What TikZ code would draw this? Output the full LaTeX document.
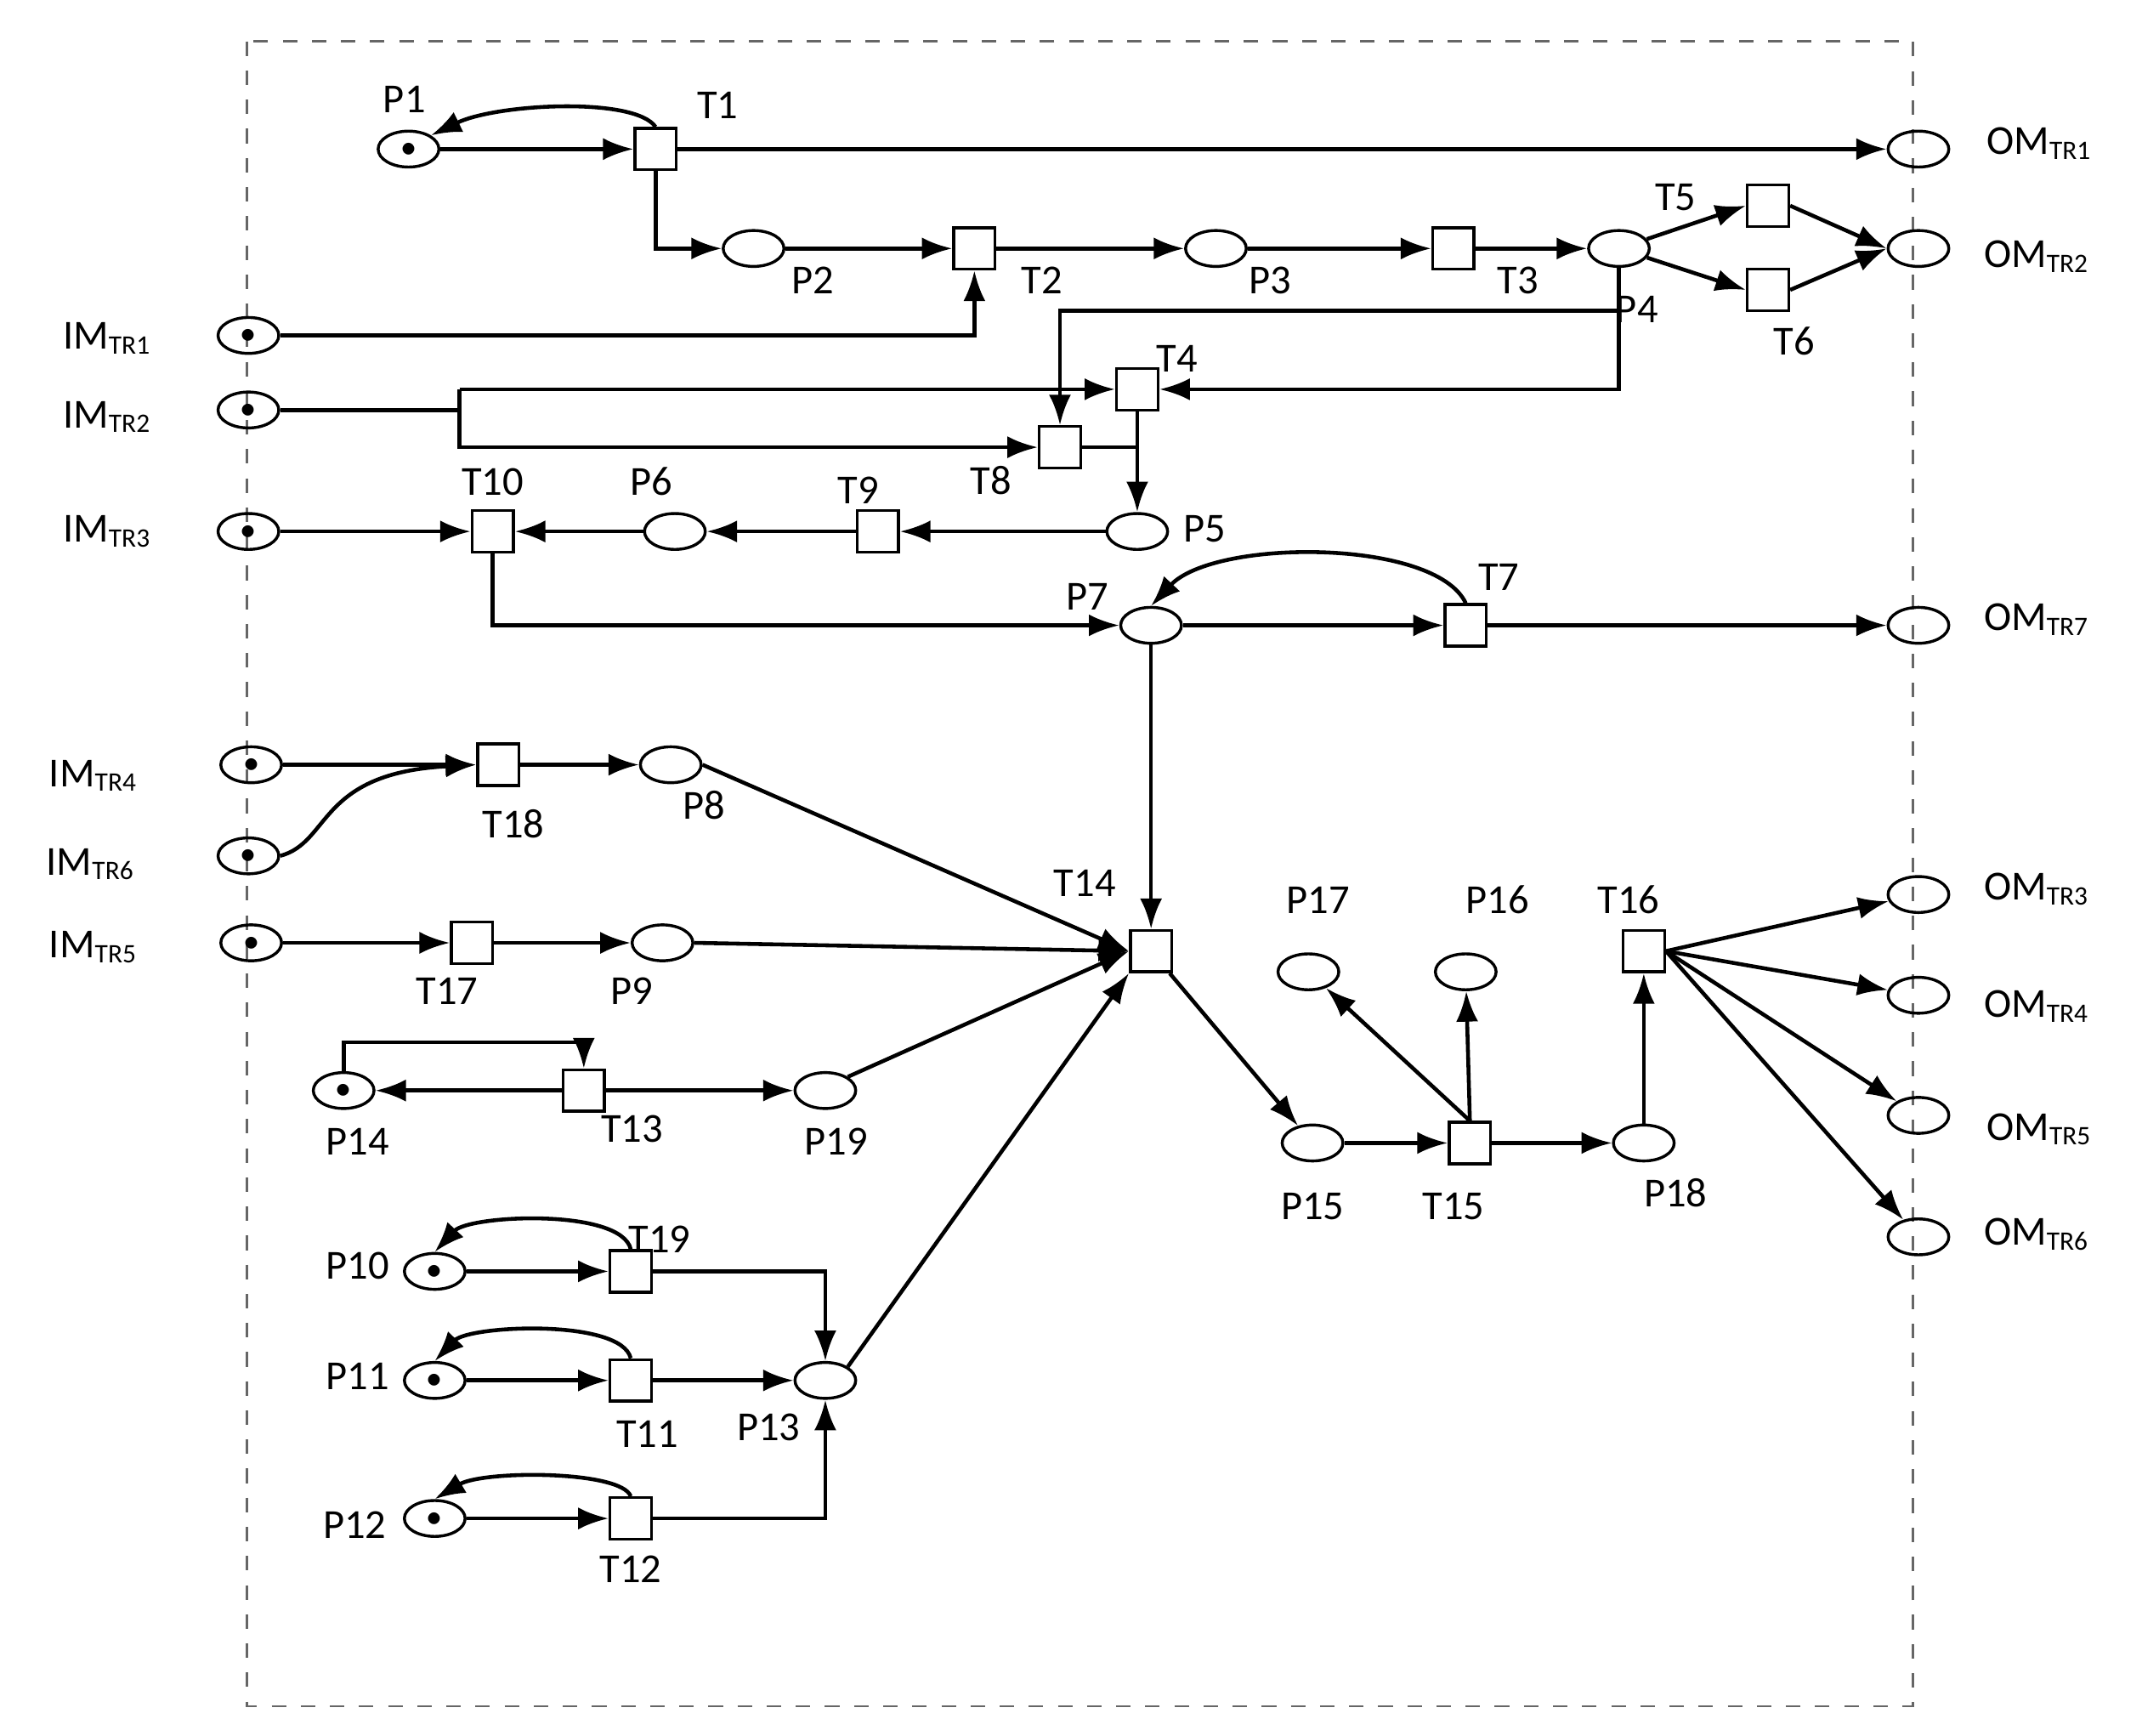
\documentclass[tikz,border=0pt]{standalone}
\usepackage{fontspec}
\setmainfont{Carlito}
\usetikzlibrary{arrows.meta,shapes.geometric}
\begin{document}
\begin{tikzpicture}[x=0.01cm,y=-0.01cm,
 pl/.style={ellipse,draw,line width=0.6pt,minimum width=0.44cm,minimum height=0.26cm,inner sep=0pt},
 tok/.style={pl,label={[inner sep=0pt]center:\tiny$\bullet$}},
 tr/.style={rectangle,draw,line width=0.6pt,minimum size=0.3cm,inner sep=0pt},
 lb/.style={font=\fontsize{8.5}{10}\selectfont,inner sep=0pt},
 ar/.style={-{Latex[length=2.2mm,width=1.6mm]},line width=0.8pt},
 ln/.style={line width=0.8pt}]
\useasboundingbox (0,0) rectangle (1552,1257);
\draw[dashed,gray!80!black,line width=0.5pt] (179,30) rectangle (1386,1236);
% nodes
\node[tok] (P1) at (296,108) {};
\node[tr] (T1) at (475,108) {};
\node[pl] (OM1) at (1390,108) {};
\node[pl] (P2) at (546,180) {};
\node[tr] (T2) at (706,180) {};
\node[pl] (P3) at (881,180) {};
\node[tr] (T3) at (1053,180) {};
\node[pl] (P4) at (1173,180) {};
\node[tr] (T5) at (1281,149) {};
\node[tr] (T6) at (1281,210) {};
\node[pl] (OM2) at (1390,180) {};
\node[tok] (IM1) at (180,243) {};
\node[tok] (IM2) at (180,297) {};
\node[tok] (IM3) at (180,385) {};
\node[tr] (T4) at (824,282) {};
\node[tr] (T8) at (768,324) {};
\node[pl] (P5) at (824,385) {};
\node[tr] (T9) at (636,385) {};
\node[pl] (P6) at (489,385) {};
\node[tr] (T10) at (357,385) {};
\node[pl] (P7) at (834,453) {};
\node[tr] (T7) at (1062,453) {};
\node[pl] (OM7) at (1390,453) {};
\node[tok] (IM4) at (182,554) {};
\node[tok] (IM6) at (180,620) {};
\node[tok] (IM5) at (182,683) {};
\node[tr] (T18) at (361,554) {};
\node[pl] (P8) at (486,554) {};
\node[tr] (T17) at (342,683) {};
\node[pl] (P9) at (480,683) {};
\node[tr] (T14) at (834,689) {};
\node[tok] (P14) at (249,790) {};
\node[tr] (T13) at (423,790) {};
\node[pl] (P19) at (598,790) {};
\node[tok] (P10) at (315,921) {};
\node[tr] (T19) at (457,921) {};
\node[tok] (P11) at (315,1000) {};
\node[tr] (T11) at (457,1000) {};
\node[tok] (P12) at (315,1100) {};
\node[tr] (T12) at (457,1100) {};
\node[pl] (P13) at (598,1000) {};
\node[pl] (P15) at (951,828) {};
\node[tr] (T15) at (1065,828) {};
\node[pl] (P18) at (1191,828) {};
\node[tr] (T16) at (1191,689) {};
\node[pl] (P17) at (948,704) {};
\node[pl] (P16) at (1062,704) {};
\node[pl] (OM3) at (1390,648) {};
\node[pl] (OM4) at (1390,721) {};
\node[pl] (OM5) at (1390,808) {};
\node[pl] (OM6) at (1390,896) {};
\coordinate (a1) at (706,243);
\coordinate (b1) at (1173,282);
\coordinate (c1) at (1173,225);
\coordinate (c2) at (768,225);
\coordinate (d0) at (333,297);
\coordinate (d1) at (333,282);
\coordinate (d2) at (333,324);
\coordinate (e1) at (824,324);
\coordinate (f1) at (357,453);
\coordinate (g1) at (249,755);
\coordinate (g2) at (423,755);
\coordinate (h1) at (598,921);
\coordinate (h2) at (598,1100);
\coordinate (k1) at (475,180);
% edges
\draw[ar] (P1) -- (T1);
\draw[ar] (T1.north) .. controls (460,70) and (360,75) .. (P1.north east);
\draw[ar] (T1) -- (OM1);
\draw[ar] (T1.south) -- (k1) -- (P2);
\draw[ar] (P2) -- (T2);
\draw[ar] (T2) -- (P3);
\draw[ar] (P3) -- (T3);
\draw[ar] (T3) -- (P4);
\draw[ar] (P4) -- (T5.west);
\draw[ar] (P4) -- (T6.west);
\draw[ar] (T5.east) -- (OM2.west);
\draw[ar] (T6.east) -- (OM2.west);
\draw[ar] (IM1) -- (a1) -- (T2.south);
\draw[ar] (P4.south) -- (b1) -- (T4);
\draw[ar] (c1) -- (c2) -- (T8.north);
\draw[ln] (IM2) -- (d0) -- (d1);
\draw[ar] (d1) -- (T4);
\draw[ar] (d0) -- (d2) -- (T8);
\draw[ln] (T8) -- (e1);
\draw[ar] (T4.south) -- (P5.north);
\draw[ar] (P5) -- (T9);
\draw[ar] (T9) -- (P6);
\draw[ar] (P6) -- (T10);
\draw[ar] (IM3) -- (T10);
\draw[ar] (T10.south) -- (f1) -- (P7);
\draw[ar] (P7) -- (T7);
\draw[ar] (T7.north) .. controls (1040,390) and (880,390) .. (P7.north);
\draw[ar] (T7) -- (OM7);
\draw[ar] (P7.south) -- (T14.north);
\draw[ar] (IM4) -- (T18);
\draw[ar] (IM6.east) .. controls (240,610) and (230,560) .. (T18.west);
\draw[ar] (T18) -- (P8);
\draw[ar] (P8.east) -- (T14.west);
\draw[ar] (IM5) -- (T17);
\draw[ar] (T17) -- (P9);
\draw[ar] (P9.east) -- (T14.west);
\draw[ar] (T13) -- (P14);
\draw[ar] (T13) -- (P19);
\draw[ar] (P14.north) -- (g1) -- (g2) -- (T13.north);
\draw[ar] (P19.north east) -- (T14.west);
\draw[ar] (P10) -- (T19);
\draw[ar] (T19.north) .. controls (450,875) and (340,880) .. (P10.north);
\draw[ar] (T19.east) -- (h1) -- (P13.north);
\draw[ar] (P11) -- (T11);
\draw[ar] (T11.north) .. controls (450,955) and (340,960) .. (P11.north);
\draw[ar] (T11) -- (P13);
\draw[ar] (P12) -- (T12);
\draw[ar] (T12.north) .. controls (450,1065) and (350,1065) .. (P12.north);
\draw[ar] (T12.east) -- (h2) -- (P13.south);
\draw[ar] (P13.north east) -- (T14.south west);
\draw[ar] (T14) -- (P15);
\draw[ar] (P15) -- (T15);
\draw[ar] (T15) -- (P18);
\draw[ar] (T15.north) -- (P17);
\draw[ar] (T15.north) -- (P16);
\draw[ar] (P18) -- (T16);
\draw[ar] (T16.east) -- (OM3);
\draw[ar] (T16.east) -- (OM4);
\draw[ar] (T16.east) -- (OM5);
\draw[ar] (T16.east) -- (OM6);
% labels
\foreach \t/\x/\y in {P1/293/72,T1/520/76,P2/589/203,T2/755/203,P3/920/203,T3/1100/203,P4/1186/224,T5/1214/143,T6/1300/247,T4/853/260,T8/718/348,T10/357/349,P6/472/349,T9/622/355,P5/873/383,P7/788/432,T7/1086/418,T18/372/597,P8/510/583,T14/786/640,T17/324/718,P9/458/718,P17/955/652,P16/1085/652,T16/1180/652,P14/259/827,T13/458/818,P19/606/827,P15/951/874,T15/1053/874,P18/1214/864,T19/478/898,P10/259/917,P11/259/997,T11/469/1039,P13/557/1034,P12/257/1105,T12/457/1137}
  \node[lb] (L\t) at (\x,\y) {\t};
\foreach \n/\x/\y in {1/78/245,2/78/302,3/78/385,4/68/562,6/66/626,5/68/686}
  \node[lb] (LIM\n) at (\x,\y) {IM\textsubscript{\fontsize{5.5}{6}\selectfont TR\n}};
\foreach \n/\x/\y in {1/1478/104,2/1476/186,7/1476/449,3/1476/644,4/1476/729,5/1478/818,6/1476/894}
  \node[lb] (LOM\n) at (\x,\y) {OM\textsubscript{\fontsize{5.5}{6}\selectfont TR\n}};
\end{tikzpicture}
\end{document}
